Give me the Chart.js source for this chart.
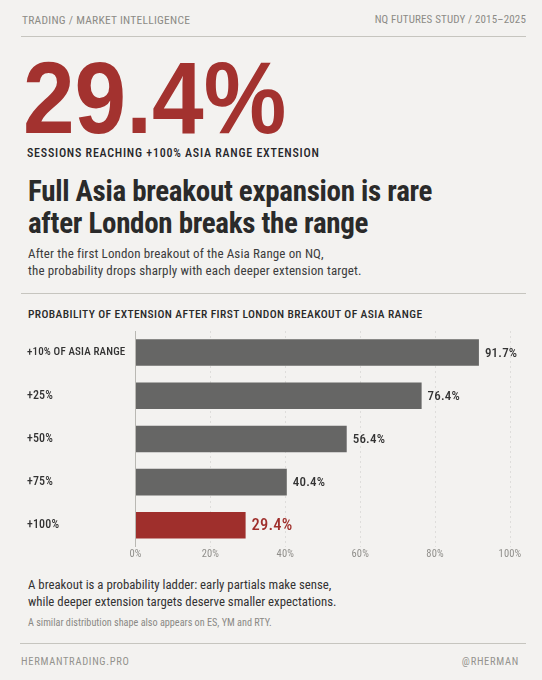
<!DOCTYPE html>
<html>
<head>
<meta charset="utf-8">
<script src="https://cdn.jsdelivr.net/npm/chart.js@4"></script>
<style>
html, body { margin: 0; padding: 0; background: #f3f2f0; }
#page { position: relative; width: 542px; height: 680px; overflow: hidden; background: #f3f2f0; }
.t { position: absolute; white-space: nowrap; margin: 0; font-weight: 400; font-family: "Roboto Condensed", Roboto, sans-serif; }
.rule { position: absolute; height: 1px; background: #c6c5bf; }
#wrap { position: absolute; left: 0; top: 320px; width: 542px; height: 250px; }
</style>
</head>
<body>
<div id="page">
  <div class="t" style="left:22px;top:12px;font-size:11.5px;line-height:16px;letter-spacing:0.25px;color:#8c8b86">TRADING / MARKET INTELLIGENCE</div>
  <div class="t" style="right:16px;top:12px;font-size:11px;line-height:16px;letter-spacing:0.15px;color:#8c8b86">NQ FUTURES STUDY / 2015–2025</div>
  <div class="rule" style="left:21px;width:505px;top:36px"></div>

  <div class="t" style="left:23px;top:43px;font:700 102px/110px 'Liberation Sans',sans-serif;transform:scaleX(0.91);transform-origin:left top;color:#a3322f">29.4%</div>
  <div class="t" style="left:27px;top:145px;font-size:12px;line-height:16px;font-weight:500;letter-spacing:0.75px;color:#26262a">SESSIONS REACHING +100% ASIA RANGE EXTENSION</div>

  <h1 class="t" style="left:28px;top:175px;font-size:29px;line-height:32px;font-weight:700;letter-spacing:-0.3px;color:#2a2a2a">Full Asia breakout expansion is rare<br>after London breaks the range</h1>
  <p class="t" style="left:28px;top:245px;font-size:13px;line-height:17px;letter-spacing:0.13px;color:#3c3c3c">After the first London breakout of the Asia Range on NQ,<br>the probability drops sharply with each deeper extension target.</p>

  <div class="rule" style="left:21px;width:505px;top:293px"></div>
  <div class="t" style="left:28px;top:306px;font-size:11.5px;line-height:16px;font-weight:500;letter-spacing:0.4px;color:#2a2a2a">PROBABILITY OF EXTENSION AFTER FIRST LONDON BREAKOUT OF ASIA RANGE</div>

  <div id="wrap"><canvas id="ladder"></canvas></div>

  <p class="t" style="left:28px;top:576px;font-size:12.8px;line-height:17px;color:#333">A breakout is a probability ladder: early partials make sense,<br>while deeper extension targets deserve smaller expectations.</p>
  <div class="t" style="left:28px;top:616px;font-size:10.2px;line-height:14px;color:#8a8985">A similar distribution shape also appears on ES, YM and RTY.</div>

  <div class="rule" style="left:20px;width:506px;top:643px"></div>
  <div class="t" style="left:21px;top:655px;font-size:10.5px;line-height:14px;letter-spacing:0.7px;color:#94938e">HERMANTRADING.PRO</div>
  <div class="t" style="right:23px;top:655px;font-size:10.5px;line-height:14px;letter-spacing:0.7px;color:#94938e">@RHERMAN</div>
</div>
<script>
// extension targets and probabilities
const categories = ['+10% OF ASIA RANGE', '+25%', '+50%', '+75%', '+100%'];
const values = [91.7, 76.4, 56.4, 40.4, 29.4];
const xTicks = [0, 20, 40, 60, 80, 100];

const GREY = '#666665';
const RED = '#9f2f2c';
const FONT = '"Roboto Condensed", Roboto, sans-serif';

// value at the end of each bar
const valueLabels = {
  id: 'valueLabels',
  afterDatasetsDraw(chart) {
    const { ctx } = chart;
    const meta = chart.getDatasetMeta(0);
    ctx.save();
    ctx.textAlign = 'left';
    ctx.textBaseline = 'middle';
    ctx.letterSpacing = '0.2px';
    meta.data.forEach((bar, i) => {
      const last = i === values.length - 1;
      ctx.font = (last ? '500 16.5px ' : '500 13px ') + FONT;
      ctx.fillStyle = last ? RED : '#333';
      ctx.fillText(values[i].toFixed(1) + '%', bar.x + 6, bar.y + 1);
    });
    ctx.restore();
  }
};

const tickSpacing = {
  id: 'tickSpacing',
  beforeDraw(chart) { chart.ctx.letterSpacing = '0.15px'; }
};

new Chart(document.getElementById('ladder'), {
  type: 'bar',
  data: {
    labels: categories,
    datasets: [{
      data: values,
      backgroundColor: values.map((v, i) => i === values.length - 1 ? RED : GREY),
      borderWidth: 0,
      categoryPercentage: 1,
      barPercentage: 0.615
    }]
  },
  options: {
    indexAxis: 'y',
    responsive: true,
    maintainAspectRatio: false,
    animation: false,
    layout: { padding: { left: 27, right: 32, top: 11, bottom: 8.5 } },
    plugins: { legend: { display: false }, tooltip: { enabled: false } },
    scales: {
      x: {
        min: 0,
        max: 100,
        afterBuildTicks(scale) { scale.ticks = xTicks.map(v => ({ value: v })); },
        grid: {
          color: '#dedddb',
          lineWidth: 1,
          drawTicks: false
        },
        border: { display: false, dash: [2, 3] },
        ticks: {
          callback: v => v + '%',
          color: '#8f8e8a',
          font: { family: FONT, size: 10.5 },
          padding: 1,
          maxRotation: 0
        }
      },
      y: {
        afterFit(scale) { scale.width = 108.5; },
        grid: { display: false },
        border: { display: true, color: '#b9b8b3', width: 1 },
        ticks: {
          crossAlign: 'far',
          color: '#333',
          padding: 0,
          font: ctx => ({ family: FONT, size: ctx.index === 0 ? 11 : 12, weight: '500' })
        }
      }
    }
  },
  plugins: [tickSpacing, valueLabels]
});
</script>
</body>
</html>
